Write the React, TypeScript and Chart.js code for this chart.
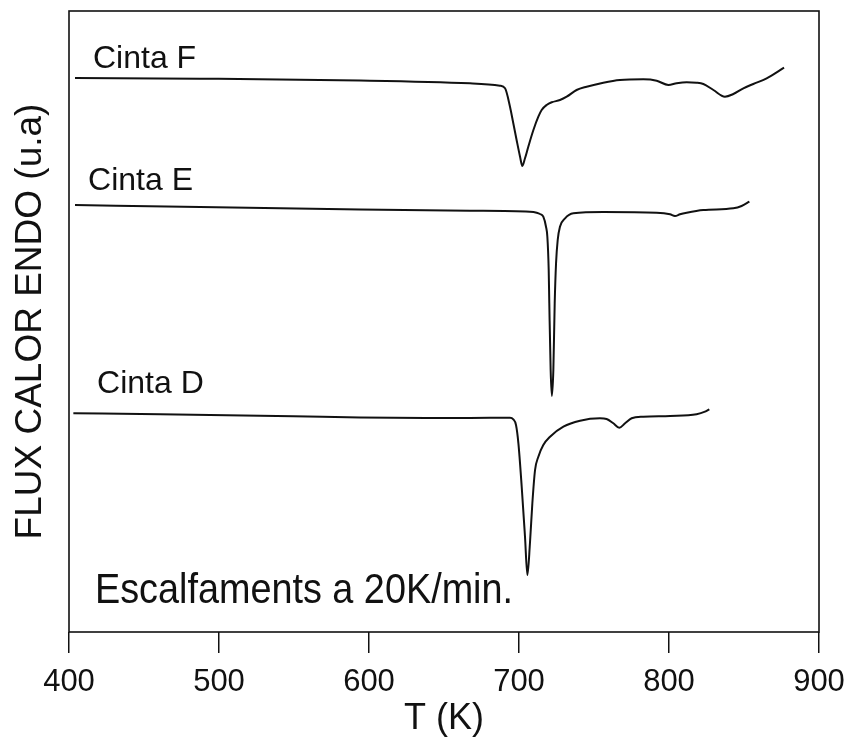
import React, { useEffect, useRef } from "react";
import { Chart, registerables } from "chart.js";

Chart.register(...registerables);

// Temperature (K) and heat flux (arbitrary units) for each ribbon
const tempF = [404.0, 487.3, 594.0, 667.3, 687.3, 690.7, 694.0, 696.2, 698.4, 700.7, 702.2, 704.0, 706.2, 709.6, 712.9, 715.1, 718.4, 721.8, 727.3, 731.8, 738.4, 745.1, 756.2, 767.3, 782.9, 791.8, 799.6, 805.1, 811.8, 818.4, 822.9, 829.6, 837.3, 842.9, 849.6, 856.2, 865.1, 876.7];
const fluxF = [554.0, 553.3, 551.5, 548.7, 546.3, 543.7, 525.3, 508.7, 492.0, 475.3, 466.0, 473.7, 485.3, 502.0, 515.3, 522.0, 527.0, 529.7, 532.0, 535.3, 542.0, 545.3, 549.3, 552.0, 552.7, 551.3, 547.0, 548.7, 549.7, 549.3, 548.0, 542.0, 535.3, 538.0, 543.7, 548.0, 553.7, 564.3];

const tempE = [404.0, 487.3, 594.0, 667.3, 707.3, 711.8, 714.0, 716.2, 718.0, 718.9, 719.8, 720.2, 721.1, 721.9, 722.9, 723.8, 724.7, 725.8, 727.3, 730.7, 736.2, 756.2, 791.8, 800.7, 804.0, 807.3, 811.8, 822.9, 842.9, 848.4, 853.6];
const fluxE = [427.0, 425.0, 422.5, 421.3, 420.3, 419.3, 418.0, 415.3, 405.3, 395.3, 362.0, 328.7, 262.0, 236.0, 262.0, 328.7, 368.7, 392.0, 405.3, 413.7, 418.7, 420.0, 419.3, 417.7, 416.0, 417.7, 419.3, 422.0, 423.7, 426.0, 430.3];

const tempD = [402.9, 460.7, 549.6, 594.0, 638.4, 667.3, 694.0, 696.2, 698.0, 699.6, 701.8, 704.0, 705.6, 707.3, 708.9, 710.7, 712.9, 716.2, 720.7, 729.6, 740.7, 754.0, 758.4, 762.9, 766.9, 770.7, 775.1, 782.9, 800.7, 818.4, 824.0, 826.9];
const fluxD = [218.7, 217.7, 215.8, 214.5, 214.0, 214.0, 214.3, 212.7, 207.0, 188.7, 145.3, 95.3, 57.0, 88.7, 128.7, 162.0, 175.3, 187.0, 195.3, 205.3, 211.3, 213.7, 213.0, 208.7, 204.3, 208.7, 213.7, 215.3, 216.0, 217.7, 220.3, 222.7];

const seriesNames = ["Cinta F", "Cinta E", "Cinta D"];
const xTicks = [400, 500, 600, 700, 800, 900];
const noteText = "Escalfaments a 20K/min.";
const xTitle = "T (K)";
const yTitle = "FLUX CALOR ENDO (u.a)";

const FONT = '"Liberation Sans", Arial, Helvetica, sans-serif';

const toPoints = (xs: number[], ys: number[]) => xs.map((x, i) => ({ x, y: ys[i] }));

const framePlugin = {
  id: "frame",
  afterDatasetsDraw(chart: any) {
    const { ctx, chartArea } = chart;
    ctx.save();
    ctx.strokeStyle = "#111";
    ctx.lineWidth = 1.6;
    ctx.strokeRect(chartArea.left, chartArea.top, chartArea.right - chartArea.left, chartArea.bottom - chartArea.top);
    ctx.restore();
  },
};

// text anchors given in data units (T, flux); sx = horizontal condensing
const textPlugin = {
  id: "texts",
  afterDraw(chart: any) {
    const { ctx, scales } = chart;
    const xs = scales.x;
    const ys = scales.y;
    const items = [
      { text: seriesNames[0], t: 416, v: 564, size: 32, sx: 1 },
      { text: seriesNames[1], t: 412.7, v: 442, size: 32, sx: 1 },
      { text: seriesNames[2], t: 418.7, v: 239, size: 32, sx: 1 },
      { text: noteText, t: 417.3, v: 29, size: 42, sx: 0.9 },
    ];
    ctx.fillStyle = "#111";
    for (const it of items) {
      ctx.save();
      ctx.textAlign = "left";
      ctx.textBaseline = "alphabetic";
      ctx.font = `${it.size}px ${FONT}`;
      ctx.translate(xs.getPixelForValue(it.t), ys.getPixelForValue(it.v));
      ctx.scale(it.sx, 1);
      ctx.fillText(it.text, 0, 0);
      ctx.restore();
    }
  },
};

export default function App() {
  const ref = useRef<HTMLCanvasElement | null>(null);

  useEffect(() => {
    if (!ref.current) return;
    const mk = (label: string, xs: number[], ys: number[]) => ({
      label,
      data: toPoints(xs, ys),
      borderColor: "#111",
      backgroundColor: "#111",
      borderWidth: 2,
      pointRadius: 0,
      cubicInterpolationMode: "monotone" as const,
      fill: false,
    });
    const chart = new Chart(ref.current, {
      type: "line",
      data: {
        datasets: [
          mk(seriesNames[0], tempF, fluxF),
          mk(seriesNames[1], tempE, fluxE),
          mk(seriesNames[2], tempD, fluxD),
        ],
      },
      options: {
        responsive: false,
        animation: false,
        events: [],
        layout: { padding: { top: 11, right: 28, left: 0, bottom: 0 } },
        plugins: { legend: { display: false }, tooltip: { enabled: false } },
        scales: {
          x: {
            type: "linear",
            min: 400,
            max: 900,
            afterBuildTicks: (scale: any) => {
              scale.ticks = xTicks.map((v) => ({ value: v }));
            },
            afterFit: (scale: any) => {
              scale.height = 110;
              scale.paddingLeft = 0;
              scale.paddingRight = 0;
            },
            grid: {
              display: true,
              drawOnChartArea: false,
              drawTicks: true,
              tickLength: 21,
              color: "#111",
              lineWidth: 1.5,
            },
            border: { display: false },
            ticks: {
              color: "#111",
              font: { family: FONT, size: 31 },
              padding: 11,
              maxRotation: 0,
              autoSkip: false,
            },
            title: {
              display: true,
              text: xTitle,
              color: "#111",
              font: { family: FONT, size: 36 },
              padding: { top: 0, bottom: 1 },
            },
          },
          y: {
            type: "linear",
            min: 0,
            max: 621,
            afterFit: (scale: any) => {
              scale.width = 69;
            },
            grid: { display: false, drawTicks: false },
            border: { display: false },
            ticks: { display: false },
            title: {
              display: true,
              text: yTitle,
              color: "#111",
              font: { family: FONT, size: 37 },
              padding: { top: 9, bottom: 0 },
            },
          },
        },
      },
      plugins: [framePlugin, textPlugin],
    });
    return () => chart.destroy();
  }, []);

  return (
    <div style={{ position: "fixed", left: 0, top: 0, width: 847, height: 742, background: "#fff" }}>
      <canvas ref={ref} width={847} height={742} style={{ width: 847, height: 742, display: "block" }} />
    </div>
  );
}
